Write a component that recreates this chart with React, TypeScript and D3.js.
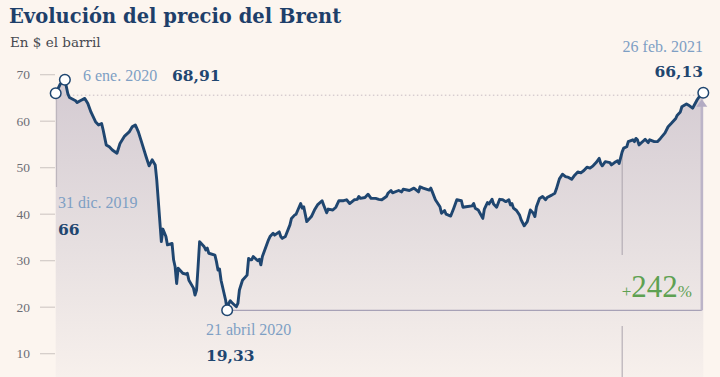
import React from "react";
import * as d3 from "d3";

const W = 720;
const H = 377;

const dates: string[] = [
  "2019-12-31","2020-01-03","2020-01-06","2020-01-08","2020-01-09","2020-01-13","2020-01-14","2020-01-16","2020-01-19","2020-01-21",
  "2020-01-23","2020-01-26","2020-01-28","2020-01-30","2020-01-31","2020-02-02","2020-02-04","2020-02-06","2020-02-09","2020-02-11",
  "2020-02-14","2020-02-17","2020-02-19","2020-02-21","2020-02-23","2020-02-25","2020-02-28","2020-03-01","2020-03-03","2020-03-05",
  "2020-03-06","2020-03-09","2020-03-10","2020-03-12","2020-03-13","2020-03-16","2020-03-17","2020-03-18","2020-03-19","2020-03-20",
  "2020-03-23","2020-03-25","2020-03-26","2020-03-27","2020-03-30","2020-03-31","2020-04-01","2020-04-02","2020-04-03","2020-04-06",
  "2020-04-07","2020-04-08","2020-04-09","2020-04-13","2020-04-14","2020-04-15","2020-04-16","2020-04-17","2020-04-20","2020-04-21",
  "2020-04-22","2020-04-23","2020-04-24","2020-04-27","2020-04-28","2020-04-29","2020-05-01","2020-05-04","2020-05-05","2020-05-06",
  "2020-05-07","2020-05-08","2020-05-11","2020-05-12","2020-05-13","2020-05-14","2020-05-18","2020-05-19","2020-05-21","2020-05-22",
  "2020-05-25","2020-05-26","2020-05-27","2020-05-29","2020-06-01","2020-06-02","2020-06-04","2020-06-05","2020-06-08","2020-06-09",
  "2020-06-10","2020-06-12","2020-06-15","2020-06-17","2020-06-19","2020-06-22","2020-06-23","2020-06-25","2020-06-26","2020-06-29",
  "2020-07-01","2020-07-03","2020-07-06","2020-07-08","2020-07-10","2020-07-13","2020-07-15","2020-07-16","2020-07-17","2020-07-20",
  "2020-07-22","2020-07-24","2020-07-27","2020-07-29","2020-07-31","2020-08-03","2020-08-04","2020-08-06","2020-08-07","2020-08-11",
  "2020-08-13","2020-08-14","2020-08-18","2020-08-21","2020-08-24","2020-08-25","2020-08-27","2020-08-31","2020-09-01","2020-09-02",
  "2020-09-04","2020-09-07","2020-09-08","2020-09-10","2020-09-11","2020-09-14","2020-09-16","2020-09-18","2020-09-21","2020-09-22",
  "2020-09-24","2020-09-28","2020-09-29","2020-09-30","2020-10-02","2020-10-05","2020-10-06","2020-10-08","2020-10-09","2020-10-11",
  "2020-10-12","2020-10-14","2020-10-16","2020-10-18","2020-10-20","2020-10-22","2020-10-23","2020-10-24","2020-10-25","2020-10-27",
  "2020-10-29","2020-10-30","2020-11-01","2020-11-03","2020-11-05","2020-11-07","2020-11-08","2020-11-09","2020-11-11","2020-11-13",
  "2020-11-15","2020-11-16","2020-11-19","2020-11-21","2020-11-22","2020-11-24","2020-11-26","2020-11-28","2020-11-30","2020-12-02",
  "2020-12-04","2020-12-06","2020-12-08","2020-12-10","2020-12-12","2020-12-14","2020-12-16","2020-12-18","2020-12-20","2020-12-21",
  "2020-12-22","2020-12-24","2020-12-27","2020-12-28","2020-12-30","2021-01-01","2021-01-02","2021-01-04","2021-01-05","2021-01-07",
  "2021-01-08","2021-01-11","2021-01-12","2021-01-13","2021-01-14","2021-01-15","2021-01-18","2021-01-19","2021-01-21","2021-01-22",
  "2021-01-25","2021-01-27","2021-01-29","2021-02-01","2021-02-03","2021-02-05","2021-02-08","2021-02-09","2021-02-11","2021-02-12",
  "2021-02-15","2021-02-17","2021-02-19","2021-02-22","2021-02-23","2021-02-24","2021-02-26",
];

const prices: number[] = [
  66.0,68.0,68.91,65.8,65.1,64.4,64.0,64.4,64.9,63.8,
  62.0,59.9,59.2,59.5,58.1,54.9,54.5,53.8,53.1,55.2,
  56.8,57.7,58.8,59.2,57.7,55.6,52.4,50.4,51.7,50.6,
  47.4,34.1,36.8,35.2,33.4,33.7,30.2,28.7,25.1,28.4,
  27.3,27.1,27.3,25.8,24.1,22.6,23.7,28.7,34.1,33.0,
  32.3,32.7,31.6,31.2,29.8,28.0,28.2,25.8,21.5,19.33,
  20.8,21.4,21.0,20.1,20.8,23.7,25.8,26.9,30.5,30.2,
  30.2,30.9,30.0,30.3,29.1,30.9,34.5,35.2,35.9,35.5,
  36.2,35.2,34.8,35.2,37.7,39.1,39.8,40.0,42.3,41.3,
  41.6,38.4,39.5,40.9,42.0,42.9,42.0,40.3,41.1,40.9,
  41.5,42.9,42.9,43.1,42.3,43.1,43.2,43.8,43.4,43.6,
  44.3,43.4,43.4,43.2,43.1,43.8,44.5,45.1,44.6,45.1,
  44.8,45.4,45.1,45.6,44.8,45.9,45.6,45.2,45.6,44.8,
  43.1,41.6,40.2,40.8,40.0,39.6,41.3,43.1,42.9,41.5,
  41.6,41.8,42.3,41.3,40.9,39.1,41.1,42.5,42.2,43.2,
  42.2,41.5,43.2,43.1,42.7,43.1,42.0,42.3,41.3,40.8,
  39.8,38.8,37.5,38.4,40.9,40.2,39.5,41.6,43.4,43.8,
  43.1,43.6,44.1,44.5,45.4,47.6,48.6,48.1,47.9,47.5,
  48.4,49.1,48.9,49.4,50.1,49.9,50.4,51.1,52.0,50.9,
  50.4,51.3,51.1,50.6,51.1,51.5,50.9,53.4,54.2,54.5,
  55.6,56.0,55.6,56.3,56.0,54.9,55.8,56.1,55.4,56.0,
  55.6,55.6,56.3,57.5,58.8,59.5,60.6,61.3,62.0,63.1,
  63.7,63.3,62.8,64.6,65.1,65.3,66.13,
];

const yTicks: number[] = [10, 20, 30, 40, 50, 60, 70];

const startDate = "2019-12-31";
const peakDate = "2020-01-06";
const minDate = "2020-04-21";
const endDate = "2021-02-26";
const yearMarkDate = "2021-01-04";

const startLabel = ["31 dic. 2019", "66"];
const peakLabel = ["6 ene. 2020", "68,91"];
const minLabel = ["21 abril 2020", "19,33"];
const endLabel = ["26 feb. 2021", "66,13"];
const changeLabel = ["+", "242", "%"];

const parse = d3.timeParse("%Y-%m-%d");

const BG = "#fcf5ef";
const NAVY = "#1f4670";
const LIGHTBLUE = "#7e9fc4";
const GREEN = "#5ea152";
const SERIF = "'Liberation Serif', serif";
const BOLD = "'DejaVu Serif', serif";

export default function App() {
  const data = dates.map((d, i) => ({ date: parse(d) as Date, value: prices[i] }));
  const x = d3
    .scaleTime()
    .domain([parse(startDate) as Date, parse(endDate) as Date])
    .range([55.7, 703.3]);
  const y = d3.scaleLinear().domain([10, 70]).range([353.7, 74.7]);

  const line = d3
    .line<{ date: Date; value: number }>()
    .x((d) => x(d.date))
    .y((d) => y(d.value));
  const area = d3
    .area<{ date: Date; value: number }>()
    .x((d) => x(d.date))
    .y0(H)
    .y1((d) => y(d.value));

  const find = (s: string) => data[dates.indexOf(s)];
  const pStart = find(startDate);
  const pPeak = find(peakDate);
  const pMin = find(minDate);
  const pEnd = find(endDate);
  const pYear = find(yearMarkDate);

  const xs = x(pStart.date);
  const xe = x(pEnd.date);
  const xm = x(pMin.date);
  const xp = x(pPeak.date);
  const xy = x(pYear.date);
  const arrowX = xe - 1.5;

  return (
    <div style={{ position: "fixed", left: 0, top: 0, width: W, height: H, background: BG }}>
      <svg width={W} height={H} style={{ display: "block" }}>
        <defs>
          <linearGradient id="ag" x1="0" y1="0" x2="0" y2="1" gradientUnits="objectBoundingBox">
            <stop offset="0" stopColor="#d4cbd2" />
            <stop offset="0.55" stopColor="#e6dfe0" />
            <stop offset="1" stopColor="#f7f0ec" />
          </linearGradient>
        </defs>
        <rect width={W} height={H} fill={BG} />

        <text x={9} y={23} fontFamily={BOLD} fontWeight="bold" fontSize={19.5} fill="#1e3f6a">
          Evolución del precio del Brent
        </text>
        <text x={10} y={47} fontFamily={BOLD} fontSize={13.5} fill="#474950">
          En $ el barril
        </text>

        {yTicks.map((t) => (
          <g key={t}>
            <line x1={40} x2={55} y1={y(t)} y2={y(t)} stroke="#d2cbc7" strokeWidth={1.2} />
            <text x={30} y={y(t) + 4.5} textAnchor="end" fontFamily={SERIF} fontSize={13.5} fill="#6c6e76">
              {t}
            </text>
          </g>
        ))}

        <path d={area(data) as string} fill="url(#ag)" />

        {/* dotted reference line at end value */}
        <line x1={xp} x2={xe} y1={y(pEnd.value) + 2.5} y2={y(pEnd.value) + 2.5} stroke="#c7bcc3" strokeWidth={1} strokeDasharray="1.5 2.5" />

        {/* start vertical */}
        <line x1={xs + 0.8} x2={xs + 0.8} y1={y(pStart.value)} y2={187} stroke="#bdb6bd" strokeWidth={1.2} />

        {/* 2021 vertical marker */}
        <line x1={xy} x2={xy} y1={y(pYear.value)} y2={255} stroke="#aaa3ac" strokeWidth={1} />
        <line x1={xy} x2={xy} y1={326} y2={H} stroke="#aaa3ac" strokeWidth={1} />

        {/* change bracket */}
        <line x1={xm} x2={arrowX} y1={y(pMin.value)} y2={y(pMin.value)} stroke="#a7a1b6" strokeWidth={1.3} />
        <line x1={arrowX} x2={arrowX} y1={y(pMin.value)} y2={y(pEnd.value) + 12} stroke="#bcb4c8" strokeWidth={2.5} />
        <path
          d={`M${arrowX},${y(pEnd.value) + 6.5} L${arrowX - 5.5},${y(pEnd.value) + 14} L${arrowX + 5.5},${y(pEnd.value) + 14} Z`}
          fill="#b3abc3"
        />

        <path d={line(data) as string} fill="none" stroke={NAVY} strokeWidth={2.9} strokeLinejoin="round" strokeLinecap="round" />

        {[pStart, pPeak, pMin, pEnd].map((p, i) => (
          <circle key={i} cx={x(p.date)} cy={y(p.value)} r={5.3} fill="#ffffff" stroke={NAVY} strokeWidth={1.5} />
        ))}

        {/* annotations */}
        <text x={83} y={81} fontFamily={SERIF} fontSize={16} fill={LIGHTBLUE}>{peakLabel[0]}</text>
        <text x={172} y={81} fontFamily={BOLD} fontWeight="bold" fontSize={15.5} fill={NAVY}>{peakLabel[1]}</text>

        <text x={58} y={208} fontFamily={SERIF} fontSize={16} fill={LIGHTBLUE}>{startLabel[0]}</text>
        <text x={58} y={235} fontFamily={BOLD} fontWeight="bold" fontSize={15.5} fill={NAVY}>{startLabel[1]}</text>

        <text x={206} y={335} fontFamily={SERIF} fontSize={16} fill={LIGHTBLUE}>{minLabel[0]}</text>
        <text x={206} y={361} fontFamily={BOLD} fontWeight="bold" fontSize={15.5} fill={NAVY}>{minLabel[1]}</text>

        <text x={703} y={52} textAnchor="end" fontFamily={SERIF} fontSize={16} fill={LIGHTBLUE}>{endLabel[0]}</text>
        <text x={703} y={77} textAnchor="end" fontFamily={BOLD} fontWeight="bold" fontSize={15.5} fill={NAVY}>{endLabel[1]}</text>

        <text x={692} y={297} textAnchor="end" fontFamily={SERIF} fill={GREEN}>
          <tspan fontSize={17}>{changeLabel[0]}</tspan>
          <tspan fontSize={31}>{changeLabel[1]}</tspan>
          <tspan fontSize={17}>{changeLabel[2]}</tspan>
        </text>
      </svg>
    </div>
  );
}
